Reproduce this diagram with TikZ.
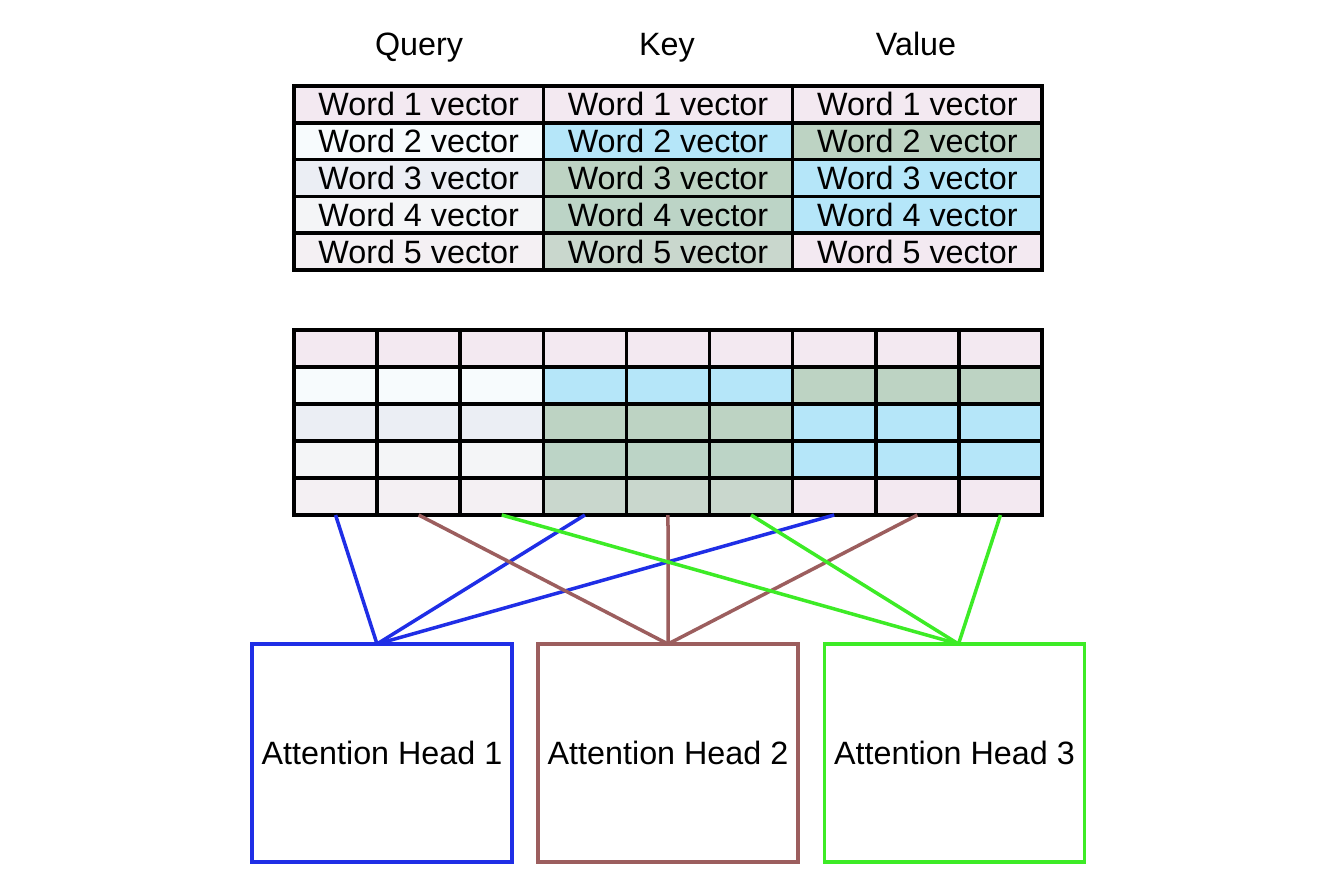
\documentclass[tikz,border=0pt]{standalone}
\usepackage{fontspec}
\setmainfont{Liberation Sans}
\definecolor{pk}{HTML}{F3E9F1}
\definecolor{qb}{HTML}{F7FBFD}
\definecolor{qc}{HTML}{EBEEF4}
\definecolor{qd}{HTML}{F4F5F7}
\definecolor{qe}{HTML}{F4F0F3}
\definecolor{bl}{HTML}{B5E6F9}
\definecolor{gr}{HTML}{BDD3C3}
\definecolor{grb}{HTML}{BCD4C6}
\definecolor{grc}{HTML}{C9D7CD}
\definecolor{hblue}{HTML}{1F2EE6}
\definecolor{hbrown}{HTML}{9C5E5E}
\definecolor{hgreen}{HTML}{3DEB26}
\tikzset{
  txt/.style={font=\fontsize{32.3}{38}\selectfont, text height=23pt, text depth=0pt, inner sep=0pt},
  tcell/.style={txt, draw=black, line width=3.5pt, minimum width=249.3pt, minimum height=36.8pt, outer sep=0pt},
  gcell/.style={draw=black, line width=3.5pt, minimum width=83.1pt, minimum height=37pt, inner sep=0pt, outer sep=0pt},
  hdr/.style={txt},
  head/.style={txt, line width=3.5pt, fill=white, minimum width=260pt, minimum height=218pt, outer sep=0pt},
  conn/.style={line width=3.5pt}
}
\begin{document}
\begin{tikzpicture}[x=1pt,y=-1pt]
\useasboundingbox[fill=white] (0,0) rectangle (1330,888);
% headers
\node[hdr] (hq) at (419,44) {Query};
\node[hdr] (hk) at (667,44) {Key};
\node[hdr] (hv) at (916,44) {Value};
% top table and grid
\foreach \r/\cq/\ck/\cv in {1/pk/pk/pk, 2/qb/bl/gr, 3/qc/gr/bl, 4/qd/grb/bl, 5/qe/grc/pk}{
  \pgfmathsetmacro\ty{86+36.8*(\r-1)+18.4}
  \node[tcell,fill=\cq] (t\r-1) at (418.67,\ty) {Word \r\ vector};
  \node[tcell,fill=\ck] (t\r-2) at (668,\ty) {Word \r\ vector};
  \node[tcell,fill=\cv] (t\r-3) at (917.33,\ty) {Word \r\ vector};
  \pgfmathsetmacro\gy{330+37*(\r-1)+18.5}
  \foreach \s in {1,2,3}{
    \pgfmathsetmacro\xa{294+83.11*(\s-1)+41.55}
    \pgfmathsetmacro\xb{294+83.11*(\s+2)+41.55}
    \pgfmathsetmacro\xc{294+83.11*(\s+5)+41.55}
    \node[gcell,fill=\cq] (g\r-\s) at (\xa,\gy) {};
    \pgfmathtruncatemacro\kb{\s+3}
    \pgfmathtruncatemacro\vb{\s+6}
    \node[gcell,fill=\ck] (g\r-\kb) at (\xb,\gy) {};
    \node[gcell,fill=\cv] (g\r-\vb) at (\xc,\gy) {};
  }
}
% heads
\node[head,draw=hblue] (h1) at (382,753) {Attention Head 1};
\node[head,draw=hbrown] (h2) at (668,753) {Attention Head 2};
\node[head,draw=hgreen] (h3) at (954.5,753) {Attention Head 3};
% connectors
\coordinate (e1) at ([xshift=-5pt]h1.north);
\coordinate (e2) at (h2.north);
\coordinate (e3) at ([xshift=4pt]h3.north);
\draw[conn,hblue] (g5-1.south) -- (e1);
\draw[conn,hblue] (g5-4.south) -- (e1);
\draw[conn,hblue] (g5-7.south) -- (e1);
\draw[conn,hbrown] (g5-2.south) -- (e2);
\draw[conn,hbrown] (g5-5.south) -- (e2);
\draw[conn,hbrown] (g5-8.south) -- (e2);
\draw[conn,hgreen] (g5-3.south) -- (e3);
\draw[conn,hgreen] (g5-6.south) -- (e3);
\draw[conn,hgreen] (g5-9.south) -- (e3);
\end{tikzpicture}
\end{document}
